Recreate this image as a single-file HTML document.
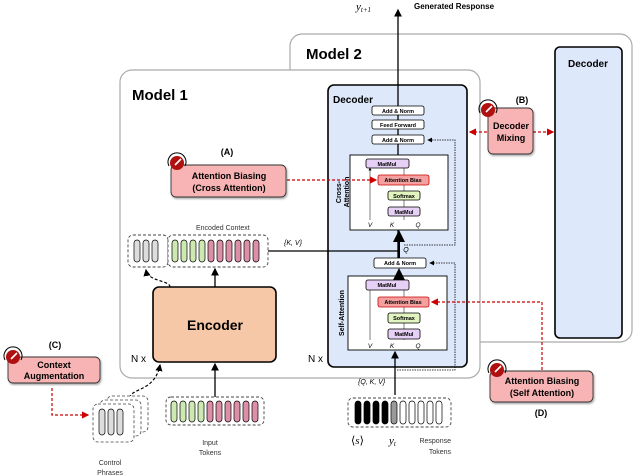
<!DOCTYPE html>
<html><head><style>body{margin:0;background:#fff}svg{display:block;font-family:"Liberation Sans",sans-serif}</style></head><body>
<svg width="640" height="476" viewBox="0 0 640 476" xmlns="http://www.w3.org/2000/svg">
<defs>
<marker id="ab" markerWidth="6" markerHeight="6" refX="5" refY="3" orient="auto"><path d="M0,0L6,3L0,6z" fill="#000"/></marker>
<marker id="ar" markerWidth="6" markerHeight="6" refX="5" refY="3" orient="auto"><path d="M0,0L6,3L0,6z" fill="#c00"/></marker>
<filter id="sh"><feDropShadow dx="1" dy="1.5" stdDeviation="1" flood-opacity="0.35"/></filter>
</defs>
<!-- Model 2 -->
<rect x="290" y="34" width="342" height="308" rx="12" fill="#fff" stroke="#aaa" stroke-width="1.2"/>
<text x="306" y="59" font-size="15" font-weight="bold">Model 2</text>
<rect x="555" y="47" width="67" height="291" rx="5" fill="#dde8fa" stroke="#000" stroke-width="1.6"/>
<text x="588" y="67" font-size="10" font-weight="bold" text-anchor="middle">Decoder</text>
<!-- Model 1 -->
<rect x="120" y="70" width="360" height="308" rx="12" fill="#fff" stroke="#aaa" stroke-width="1.2"/>
<text x="132" y="100" font-size="15" font-weight="bold">Model 1</text>
<rect x="328" y="85" width="139" height="282" rx="6" fill="#dde8fa" stroke="#000" stroke-width="1.6"/>
<text x="333" y="103" font-size="10" font-weight="bold">Decoder</text>
<text x="131" y="362" font-size="10">N x</text>
<text x="308" y="362" font-size="10">N x</text>
<!-- main line -->
<line x1="398" y1="258" x2="398" y2="10" stroke="#000" stroke-width="1.3" marker-end="url(#ab)"/>
<text x="356" y="10" font-size="11" font-style="italic" font-family="Liberation Serif">y<tspan font-size="7" dy="2">t+1</tspan></text>
<text x="414" y="9" font-size="8" font-weight="bold">Generated Response</text>
<g font-size="5.5" font-weight="bold" text-anchor="middle">
<rect x="372" y="106" width="52" height="9" rx="2" fill="#fff" stroke="#000" stroke-width="0.8"/><text x="398" y="113">Add &amp; Norm</text>
<rect x="372" y="120" width="52" height="9" rx="2" fill="#fff" stroke="#000" stroke-width="0.8"/><text x="398" y="127">Feed Forward</text>
<rect x="372" y="135" width="52" height="9" rx="2" fill="#fff" stroke="#000" stroke-width="0.8"/><text x="398" y="142">Add &amp; Norm</text>
<!-- cross attn -->
<rect x="350" y="155" width="98" height="75" fill="#fff" stroke="#000" stroke-width="0.9"/>
<line x1="370" y1="220" x2="370" y2="168" stroke="#000" stroke-width="0.5" marker-end="url(#ab)"/>
<line x1="404" y1="220" x2="404" y2="168" stroke="#000" stroke-width="0.5"/>
<rect x="366" y="159" width="43" height="9" rx="2" fill="#e6d0f5" stroke="#000" stroke-width="0.8"/><text x="387" y="166">MatMul</text>
<rect x="378" y="175" width="51" height="10" rx="2" fill="#f4a0a0" stroke="#c00" stroke-width="0.8"/><text x="403" y="182">Attention Bias</text>
<rect x="388" y="191" width="32" height="9" rx="2" fill="#e2f5c0" stroke="#000" stroke-width="0.8"/><text x="404" y="198">Softmax</text>
<rect x="388" y="207" width="32" height="9" rx="2" fill="#e6d0f5" stroke="#000" stroke-width="0.8"/><text x="404" y="214">MatMul</text>
<!-- self attn -->
<rect x="374" y="258" width="52" height="10" rx="2" fill="#fff" stroke="#000" stroke-width="0.8"/><text x="400" y="265">Add &amp; Norm</text>
<rect x="348" y="276" width="99" height="74" fill="#fff" stroke="#000" stroke-width="0.9"/>
<line x1="370" y1="340" x2="370" y2="290" stroke="#000" stroke-width="0.5"/>
<line x1="404" y1="340" x2="404" y2="290" stroke="#000" stroke-width="0.5"/>
<rect x="366" y="280" width="43" height="10" rx="2" fill="#e6d0f5" stroke="#000" stroke-width="0.8"/><text x="387" y="287">MatMul</text>
<rect x="378" y="297" width="51" height="10" rx="2" fill="#f4a0a0" stroke="#c00" stroke-width="0.8"/><text x="403" y="304">Attention Bias</text>
<rect x="388" y="313" width="32" height="10" rx="2" fill="#e2f5c0" stroke="#000" stroke-width="0.8"/><text x="404" y="320">Softmax</text>
<rect x="388" y="329" width="32" height="10" rx="2" fill="#e6d0f5" stroke="#000" stroke-width="0.8"/><text x="404" y="336">MatMul</text>
</g>
<g font-size="6.5" font-style="italic" text-anchor="middle">
<text x="370" y="227">V</text><text x="392" y="227">K</text><text x="418" y="227">Q</text>
<text x="370" y="348">V</text><text x="392" y="348">K</text><text x="418" y="348">Q</text>
<text x="406" y="252" font-size="7">Q</text>
</g>
<text transform="translate(341,192) rotate(-90)" font-size="7" font-weight="bold" text-anchor="middle">Cross-<tspan x="0" dy="8">Attention</tspan></text>
<text transform="translate(344,313) rotate(-90)" font-size="7" font-weight="bold" text-anchor="middle">Self-Attention</text>
<line x1="399" y1="258" x2="399" y2="232" stroke="#000" stroke-width="2" marker-end="url(#ab)"/>
<line x1="399" y1="276" x2="399" y2="270" stroke="#000" stroke-width="2" marker-end="url(#ab)"/>
<line x1="395" y1="395" x2="395" y2="352" stroke="#000" stroke-width="1.3" marker-end="url(#ab)"/>
<!-- residual dotted -->
<path d="M404,245 H455 V140 H428" fill="none" stroke="#000" stroke-width="0.8" stroke-dasharray="1.5,1" marker-end="url(#ab)"/>
<path d="M397,370 H455 V263 H430" fill="none" stroke="#000" stroke-width="0.8" stroke-dasharray="1.5,1" marker-end="url(#ab)"/>
<!-- KV line -->
<line x1="268" y1="251" x2="398" y2="251" stroke="#000" stroke-width="1.2"/>
<text x="284" y="245" font-size="7" font-style="italic">{K, V}</text>
<!-- encoded context -->
<text x="196" y="230" font-size="7" fill="#333">Encoded Context</text>
<rect x="128" y="235" width="40" height="32" rx="5" fill="#fff" stroke="#444" stroke-width="0.9" stroke-dasharray="3,2"/>
<rect x="168" y="235" width="100" height="32" rx="5" fill="#fff" stroke="#444" stroke-width="0.9" stroke-dasharray="3,2"/>
<g stroke="#000" stroke-width="0.7">
<rect x="134" y="240" width="6" height="22" rx="3" fill="#ddd"/><rect x="143" y="240" width="6" height="22" rx="3" fill="#ddd"/><rect x="152" y="240" width="6" height="22" rx="3" fill="#ddd"/>
<rect x="172" y="240" width="6" height="22" rx="3" fill="#cde8b0"/><rect x="181" y="240" width="6" height="22" rx="3" fill="#cde8b0"/><rect x="190" y="240" width="6" height="22" rx="3" fill="#cde8b0"/><rect x="199" y="240" width="6" height="22" rx="3" fill="#cde8b0"/>
<rect x="208" y="240" width="6" height="22" rx="3" fill="#dc8fa6"/><rect x="217" y="240" width="6" height="22" rx="3" fill="#dc8fa6"/><rect x="226" y="240" width="6" height="22" rx="3" fill="#dc8fa6"/><rect x="235" y="240" width="6" height="22" rx="3" fill="#dc8fa6"/><rect x="244" y="240" width="6" height="22" rx="3" fill="#dc8fa6"/><rect x="253" y="240" width="6" height="22" rx="3" fill="#dc8fa6"/>
</g>
<!-- encoder -->
<rect x="153" y="287" width="123" height="75" rx="6" fill="#f7c8a8" stroke="#000" stroke-width="1.6"/>
<text x="215" y="330" font-size="14" font-weight="bold" text-anchor="middle">Encoder</text>
<line x1="215" y1="287" x2="215" y2="269" stroke="#000" stroke-width="1.3" marker-end="url(#ab)"/>
<path d="M170,287 C170,280 148,282 146,270" fill="none" stroke="#000" stroke-width="1.2" stroke-dasharray="3,2" marker-end="url(#ab)"/>
<line x1="215" y1="397" x2="215" y2="364" stroke="#000" stroke-width="1.3" marker-end="url(#ab)"/>
<path d="M130,398 C130,388 155,392 160,365" fill="none" stroke="#000" stroke-width="1.2" stroke-dasharray="3,2" marker-end="url(#ab)"/>
<!-- input tokens -->
<rect x="166" y="397" width="98" height="28" rx="5" fill="#fff" stroke="#444" stroke-width="0.9" stroke-dasharray="3,2"/>
<g stroke="#000" stroke-width="0.7">
<rect x="171" y="401" width="6" height="21" rx="3" fill="#cde8b0"/><rect x="180" y="401" width="6" height="21" rx="3" fill="#cde8b0"/><rect x="189" y="401" width="6" height="21" rx="3" fill="#cde8b0"/><rect x="198" y="401" width="6" height="21" rx="3" fill="#cde8b0"/>
<rect x="207" y="401" width="6" height="21" rx="3" fill="#dc8fa6"/><rect x="216" y="401" width="6" height="21" rx="3" fill="#dc8fa6"/><rect x="225" y="401" width="6" height="21" rx="3" fill="#dc8fa6"/><rect x="234" y="401" width="6" height="21" rx="3" fill="#dc8fa6"/><rect x="243" y="401" width="6" height="21" rx="3" fill="#dc8fa6"/><rect x="252" y="401" width="6" height="21" rx="3" fill="#dc8fa6"/>
</g>
<text x="210" y="445" font-size="7" text-anchor="middle" fill="#333">Input</text>
<text x="210" y="455" font-size="7" text-anchor="middle" fill="#333">Tokens</text>
<!-- control phrases -->
<rect x="107" y="396" width="41" height="36" rx="5" fill="#fff" stroke="#444" stroke-width="0.8" stroke-dasharray="3,2"/>
<rect x="100" y="400" width="41" height="36" rx="5" fill="#fff" stroke="#444" stroke-width="0.8" stroke-dasharray="3,2"/>
<rect x="93" y="404" width="41" height="38" rx="5" fill="#fff" stroke="#444" stroke-width="0.8" stroke-dasharray="3,2"/>
<g stroke="#000" stroke-width="0.7" fill="#ddd">
<rect x="99" y="409" width="6" height="26" rx="3"/><rect x="108" y="409" width="6" height="26" rx="3"/><rect x="117" y="409" width="6" height="26" rx="3"/>
</g>
<text x="110" y="465" font-size="7" text-anchor="middle" fill="#333">Control</text>
<text x="110" y="475" font-size="7" text-anchor="middle" fill="#333">Phrases</text>
<!-- response tokens -->
<text x="358" y="384" font-size="7" font-style="italic">{Q, K, V}</text>
<rect x="348" y="398" width="103" height="29" rx="5" fill="#fff" stroke="#444" stroke-width="0.9" stroke-dasharray="3,2"/>
<g stroke="#000" stroke-width="0.7">
<rect x="355" y="401" width="6" height="23" rx="3" fill="#000"/><rect x="364" y="401" width="6" height="23" rx="3" fill="#000"/><rect x="373" y="401" width="6" height="23" rx="3" fill="#000"/><rect x="382" y="401" width="6" height="23" rx="3" fill="#000"/>
<rect x="391" y="401" width="6" height="23" rx="3" fill="#999"/>
<rect x="400" y="401" width="6" height="23" rx="3" fill="#fff"/><rect x="409" y="401" width="6" height="23" rx="3" fill="#fff"/><rect x="418" y="401" width="6" height="23" rx="3" fill="#fff"/><rect x="427" y="401" width="6" height="23" rx="3" fill="#fff"/><rect x="436" y="401" width="6" height="23" rx="3" fill="#fff"/>
</g>
<text x="351" y="444" font-size="11" font-family="Liberation Serif">⟨<tspan font-style="italic">s</tspan>⟩</text>
<text x="389" y="444" font-size="11" font-style="italic" font-family="Liberation Serif">y<tspan font-size="7" dy="2">t</tspan></text>
<text x="451" y="443" font-size="7" text-anchor="end" fill="#333">Response</text>
<text x="451" y="454" font-size="7" text-anchor="end" fill="#333">Tokens</text>
<!-- red dashed -->
<g stroke="#c00" stroke-width="1.2" stroke-dasharray="3,2" fill="none">
<line x1="287" y1="180" x2="376" y2="180" marker-end="url(#ar)"/>
<line x1="487" y1="132" x2="470" y2="132" marker-end="url(#ar)"/>
<line x1="533" y1="132" x2="553" y2="132" marker-end="url(#ar)"/>
<path d="M52,388 V415 H88" marker-end="url(#ar)"/>
<path d="M542,370 V302 H432" marker-end="url(#ar)"/>
</g>
<!-- callouts -->
<g font-size="9" font-weight="bold" text-anchor="middle">
<rect x="171" y="165" width="115" height="32" rx="5" fill="#f8b4b4" stroke="#333" stroke-width="0.9" filter="url(#sh)"/>
<text x="229" y="179">Attention Biasing</text><text x="229" y="191">(Cross Attention)</text>
<text x="227" y="155">(A)</text>
<rect x="488" y="108" width="45" height="46" rx="5" fill="#f8b4b4" stroke="#333" stroke-width="0.9" filter="url(#sh)"/>
<text x="511" y="129">Decoder</text><text x="511" y="141">Mixing</text>
<text x="522" y="103">(B)</text>
<rect x="8" y="357" width="92" height="26" rx="5" fill="#f8b4b4" stroke="#333" stroke-width="0.9" filter="url(#sh)"/>
<text x="54" y="368">Context</text><text x="54" y="379">Augmentation</text>
<text x="55" y="348">(C)</text>
<rect x="490" y="371" width="103" height="31" rx="5" fill="#f8b4b4" stroke="#333" stroke-width="0.9" filter="url(#sh)"/>
<text x="542" y="384">Attention Biasing</text><text x="542" y="396">(Self Attention)</text>
<text x="541" y="416">(D)</text>
</g>
<!-- knobs -->
<g>
<g transform="translate(177,163)"><path d="M-8,3 A9,9 0 1 1 8,3" fill="none" stroke="#000" stroke-width="1"/><circle r="7" fill="#b01010"/><line x1="-2" y1="2" x2="4" y2="-4" stroke="#fff" stroke-width="1.6"/></g>
<g transform="translate(488,110)"><path d="M-8,3 A9,9 0 1 1 8,3" fill="none" stroke="#000" stroke-width="1"/><circle r="7" fill="#b01010"/><line x1="-2" y1="2" x2="4" y2="-4" stroke="#fff" stroke-width="1.6"/></g>
<g transform="translate(13,357)"><path d="M-8,3 A9,9 0 1 1 8,3" fill="none" stroke="#000" stroke-width="1"/><circle r="7" fill="#b01010"/><line x1="-2" y1="2" x2="4" y2="-4" stroke="#fff" stroke-width="1.6"/></g>
<g transform="translate(497,370)"><path d="M-8,3 A9,9 0 1 1 8,3" fill="none" stroke="#000" stroke-width="1"/><circle r="7" fill="#b01010"/><line x1="-2" y1="2" x2="4" y2="-4" stroke="#fff" stroke-width="1.6"/></g>
</g>
</svg>
</body></html>
